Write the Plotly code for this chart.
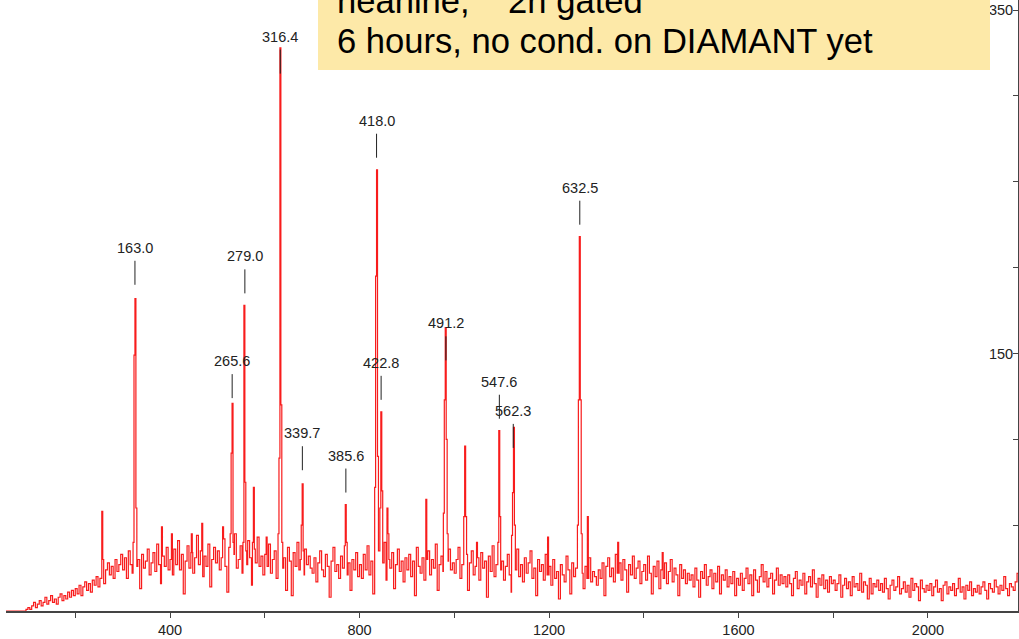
import plotly.graph_objects as go

# ---------------------------------------------------------------- data
# gamma-ray spectrum, 2n gated; 0.5 keV per channel
KEV_PER_CH = 0.5
FIRST_CH = 0
BIN = 4  # background stored in 4-channel bins, 25 bins per row (100 channels)

background = [
    0, 0, 0, 0, 0, 0, 0, 0, 0, 0, 0, 0, 0, 0, 0, 0, 0, 0, 0, 0, 0, 0, 0, 0, 1,
    2, 1, 3, 5, 2, 4, 6, 3, 5, 8, 4, 6, 9, 5, 7, 4, 8, 10, 6, 9, 7, 11, 8, 12, 9,
    13, 10, 15, 9, 14, 17, 12, 16, 11, 18, 15, 20, 14, 19, 22, 16, 24, 28, 21, 26, 19, 30, 23, 27, 33,
    24, 31, 19, 35, 27, 22, 38, 26, 30, 13, 33, 25, 29, 36, 21, 28, 34, 23, 39, 27, 16, 32, 26, 37, 24,
    30, 21, 36, 27, 41, 24, 33, 10, 29, 38, 25, 34, 22, 31, 44, 27, 35, 20, 32, 26, 39, 14, 30, 37, 28,
    35, 24, 31, 42, 26, 11, 37, 29, 33, 45, 25, 30, 38, 22, 34, 27, 41, 31, 15, 36, 28, 43, 26, 32, 21,
    33, 26, 39, 22, 30, 35, 19, 28, 41, 25, 31, 12, 37, 29, 9, 34, 26, 40, 24, 30, 21, 36, 27, 32, 25,
    22, 31, 17, 28, 35, 24, 20, 33, 26, 8, 29, 37, 23, 27, 19, 32, 25, 38, 21, 28, 12, 30, 24, 34, 20,
    27, 19, 33, 24, 38, 21, 29, 10, 31, 26, 35, 22, 28, 40, 18, 30, 25, 34, 13, 27, 36, 23, 29, 17, 31,
    24, 33, 20, 29, 9, 37, 26, 22, 31, 18, 28, 35, 21, 30, 25, 39, 12, 27, 32, 23, 16, 29, 36, 24, 28,
    22, 30, 37, 19, 27, 24, 33, 12, 28, 35, 21, 26, 31, 18, 34, 25, 29, 8, 32, 23, 38, 20, 27, 30, 24,
    29, 18, 26, 33, 21, 11, 30, 24, 36, 20, 27, 17, 31, 22, 28, 35, 19, 25, 9, 30, 23, 27, 18, 33, 21,
    26, 15, 30, 19, 23, 7, 27, 21, 17, 32, 24, 10, 28, 20, 25, 16, 29, 22, 13, 26, 19, 31, 17, 23, 20,
    15, 24, 19, 28, 9, 26, 31, 20, 25, 17, 33, 22, 28, 18, 30, 24, 11, 27, 21, 32, 19, 25, 29, 16, 23,
    27, 18, 32, 22, 10, 26, 20, 29, 13, 24, 19, 28, 16, 23, 30, 17, 25, 21, 9, 27, 19, 24, 16, 22, 18,
    21, 14, 25, 18, 8, 23, 19, 27, 15, 20, 24, 13, 22, 17, 26, 10, 21, 18, 24, 14, 20, 16, 23, 9, 19,
    15, 22, 12, 19, 25, 16, 21, 9, 24, 18, 11, 20, 27, 17, 23, 14, 19, 22, 10, 18, 25, 15, 21, 16, 20,
    14, 21, 16, 9, 19, 23, 13, 18, 15, 22, 10, 17, 20, 14, 24, 16, 8, 19, 15, 21, 13, 18, 11, 20, 16,
    18, 12, 16, 21, 8, 15, 19, 13, 17, 9, 20, 14, 16, 12, 22, 11, 17, 15, 7, 19, 10, 16, 14, 18, 12,
    16, 11, 19, 13, 7, 15, 18, 12, 14, 20, 10, 13, 17, 11, 15, 8, 19, 12, 16, 14, 6, 18, 13, 11, 15,
    12, 16, 9, 14, 18, 11, 13, 6, 15, 17, 10, 14, 12, 16, 9, 13, 19, 11, 14, 7, 15, 12, 17, 9, 13,
    11, 15, 10, 14, 17, 12, 7, 16, 13, 11, 18, 14, 10, 15, 12, 20, 13, 9, 16, 14, 12, 17, 22, 10, 15,
]

# identified transitions (keV), their fitted heights and channel profiles
line_energies = [163.0, 265.6, 279.0, 316.4, 339.7, 385.6,
                 418.0, 422.8, 491.2, 547.6, 562.3, 632.5]
line_fit = [183, 117, 178, 306, 75, 62, 257, 116, 139, 105, 88, 218]
line_profiles = [
    [40, 149, 182, 60],
    [45, 92, 121, 40],
    [40, 178, 75, 35],
    [45, 89, 328, 120, 40],
    [30, 50, 74, 35],
    [30, 62, 40],
    [72, 195, 257, 90],
    [60, 116, 70],
    [57, 123, 165, 100, 45],
    [40, 105, 55],
    [44, 69, 107, 50],
    [50, 123, 218, 123, 45],
]

# other (unlabelled) lines, by channel
extra_channels = [258, 383, 404, 446, 468, 512, 577, 604, 860, 942, 1023,
                  1048, 1198, 1282, 1346, 1440]
extra_profiles = [[58, 30], [49], [45], [45], [51], [49], [40, 72, 35], [43],
                  [60, 45], [65, 30], [55, 96, 55], [40], [43], [55], [40], [34]]

header_lines = ["neanine,\u00a0\u00a0\u00a0 2n gated",
                "6 hours, no cond. on DIAMANT yet"]

x_ticks = [200, 400, 600, 800, 1000, 1200, 1400, 1600, 1800, 2000]
y_ticks = [0, 50, 100, 150, 200, 250, 300, 350]
y_labelled = [150, 350]

# ---------------------------------------------------------------- spectrum
n_ch = len(background) * BIN
channels = list(range(FIRST_CH, FIRST_CH + n_ch))
counts = [background[i // BIN] for i in range(n_ch)]


def add_line(center, profile):
    start = int(round(center)) - len(profile)
    for k, v in enumerate(profile):
        for j in range(2):
            idx = start + 2 * k + j - FIRST_CH
            if 0 <= idx < n_ch:
                counts[idx] = max(counts[idx], v)


for e, prof in zip(line_energies, line_profiles):
    add_line(e / KEV_PER_CH, prof)
for c, prof in zip(extra_channels, extra_profiles):
    add_line(c, prof)

W, H = 1019, 639
M_L, M_R, M_T, M_B = 6, 1, 0, 28
plot_w = W - M_L - M_R
plot_h = H - M_T - M_B

SMALL = "Liberation Sans, Arial, sans-serif"
INK = "#222222"

fig = go.Figure()
fig.add_trace(go.Scatter(
    x=channels, y=counts, mode="lines",
    line=dict(color="rgb(248,28,28)", width=1.2, shape="hv"),
    hoverinfo="skip", showlegend=False,
))

# peak labels with their tick marks
for e, h in zip(line_energies, line_fit):
    ch = e / KEV_PER_CH
    fig.add_shape(type="line", xref="x", yref="y", x0=ch, x1=ch,
                  ysizemode="pixel", yanchor=h, y0=12, y1=36,
                  line=dict(color=INK, width=1))
    fig.add_annotation(x=ch, y=h, xref="x", yref="y", text=f"{e:.1f}",
                       showarrow=False, yshift=49,
                       font=dict(family=SMALL, size=14.5, color=INK))


# header box
def px_x(p):
    return (p - M_L) / plot_w


def px_y(p):
    return (H - M_B - p) / plot_h


fig.add_shape(type="rect", xref="paper", yref="paper",
              x0=px_x(318), x1=px_x(990), y0=px_y(70), y1=px_y(-20),
              fillcolor="rgb(253,233,168)", line=dict(width=0), layer="above")
for i, txt in enumerate(header_lines):
    fig.add_annotation(xref="paper", yref="paper", x=px_x(335), y=px_y(1 + 40 * i),
                       xanchor="left", yanchor="middle", showarrow=False,
                       text=txt,
                       font=dict(family="Liberation Sans, Arial, sans-serif",
                                 size=34.6, color="black"))

fig.update_layout(
    width=W, height=H,
    margin=dict(l=M_L, r=M_R, t=M_T, b=M_B, pad=0),
    paper_bgcolor="white", plot_bgcolor="white",
    xaxis=dict(range=[53.8, 2190], showgrid=False, zeroline=False,
               showline=True, linecolor="#444444", linewidth=1.5,
               ticks="outside", ticklen=5, tickcolor="#444444",
               tickvals=x_ticks,
               ticktext=[str(v) if v % 400 == 0 else "" for v in x_ticks],
               tickfont=dict(family=SMALL, size=14.5, color=INK)),
    yaxis=dict(range=[0, 611 / 1.717], side="right", showgrid=False,
               zeroline=False, showline=True, linecolor="#444444",
               linewidth=1.5, ticks="inside", ticklen=5, tickcolor="#444444",
               ticklabelposition="inside", ticklabeloverflow="allow",
               tickvals=y_ticks,
               ticktext=[str(v) if v in y_labelled else "" for v in y_ticks],
               tickfont=dict(family=SMALL, size=14.5, color=INK)),
)

fig.write_html("out.html")
